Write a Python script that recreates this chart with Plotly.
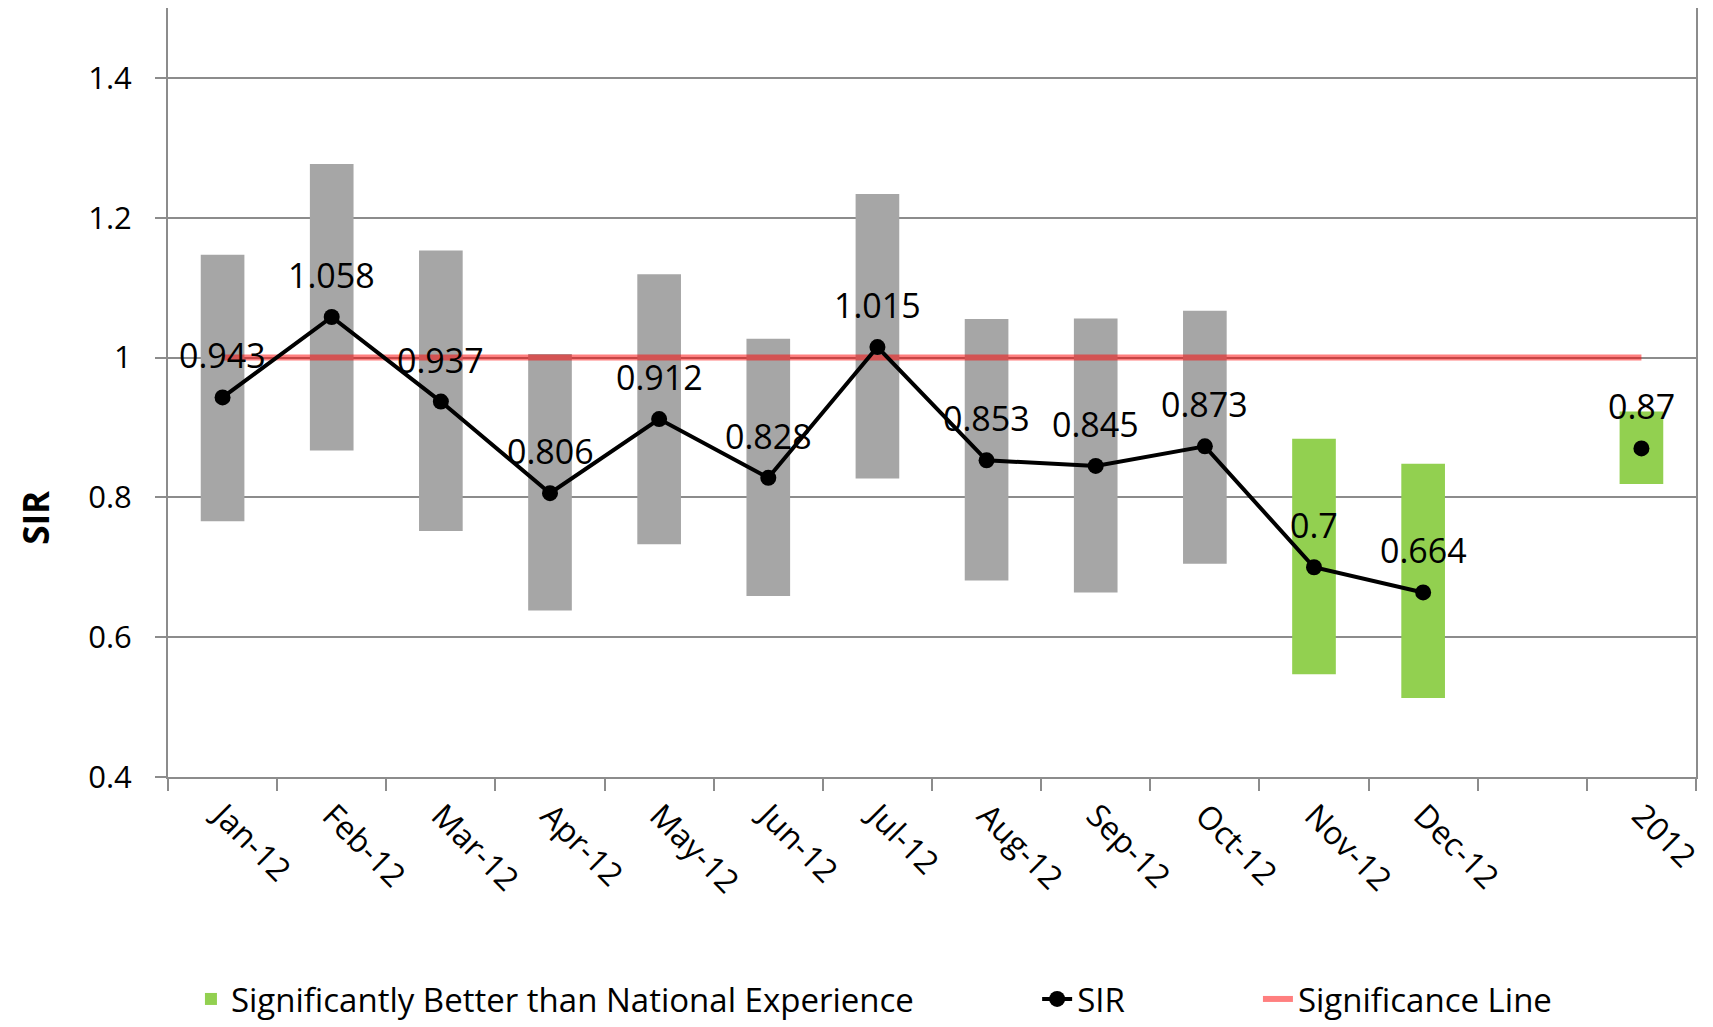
import plotly.graph_objects as go

categories = ["Jan-12", "Feb-12", "Mar-12", "Apr-12", "May-12", "Jun-12", "Jul-12",
              "Aug-12", "Sep-12", "Oct-12", "Nov-12", "Dec-12", "", "2012"]
sir = [0.943, 1.058, 0.937, 0.806, 0.912, 0.828, 1.015, 0.853, 0.845, 0.873, 0.7, 0.664, None, 0.87]
ci_low = [0.766, 0.867, 0.752, 0.638, 0.733, 0.659, 0.827, 0.681, 0.664, 0.705, 0.547, 0.513, None, 0.819]
ci_high = [1.147, 1.277, 1.153, 1.005, 1.119, 1.027, 1.234, 1.055, 1.056, 1.067, 0.884, 0.848, None, 0.923]
significant = [False, False, False, False, False, False, False, False, False, False, True, True, False, True]
significance_level = 1.0
y_ticks = [0.4, 0.6, 0.8, 1.0, 1.2, 1.4]
y_ticktext = ["0.4", "0.6", "0.8", "1", "1.2", "1.4"]

FONT = "Open Sans"
GRAY = "#A6A6A6"
GREEN = "#92D050"
AXIS = "#8C8C8C"

pos = list(range(len(categories)))

def split(flag):
    xs, base, h = [], [], []
    for p, lo, hi, s in zip(pos, ci_low, ci_high, significant):
        if lo is None or s != flag:
            continue
        xs.append(p)
        base.append(lo)
        h.append(hi - lo)
    return xs, base, h

fig = go.Figure()

gx, gb, gh = split(False)
fig.add_trace(go.Bar(x=gx, y=gh, base=gb, width=0.4, marker=dict(color=GRAY, line=dict(width=0)),
                     showlegend=False, name="Not Significant"))
sx, sb, sh = split(True)
fig.add_trace(go.Bar(x=sx, y=sh, base=sb, width=0.4, marker=dict(color=GREEN, line=dict(width=0)),
                     name="Significantly Better than National Experience", legend="legend"))

fig.add_trace(go.Scatter(x=[pos[0], pos[-1]], y=[significance_level, significance_level], mode="lines",
                         line=dict(color="rgba(255,0,0,0.5)", width=6), name="Significance Line",
                         legend="legend3"))

fig.add_trace(go.Scatter(x=pos, y=sir, mode="lines+markers", connectgaps=False,
                         line=dict(color="black", width=4), marker=dict(color="black", size=16),
                         name="SIR", legend="legend2"))

for p, v in zip(pos, sir):
    if v is None:
        continue
    fig.add_annotation(x=p, y=v, text=f"{v:g}", showarrow=False, yshift=42,
                       font=dict(family=FONT, size=34, color="black"))

fig.add_annotation(text="<b>SIR</b>", textangle=-90, xref="paper", yref="paper",
                   x=-0.0872, y=0.338, xanchor="center", yanchor="middle", showarrow=False,
                   borderpad=0, font=dict(family=FONT, size=35, color="black"))

leg_common = dict(orientation="h", xref="container", yref="container", xanchor="left",
                  yanchor="bottom", font=dict(family=FONT, size=33), bgcolor="rgba(0,0,0,0)")

fig.update_layout(
    width=1705, height=1019,
    margin=dict(l=160, r=17, t=0, b=250),
    plot_bgcolor="white", paper_bgcolor="white",
    barmode="overlay",
    font=dict(family=FONT, size=30, color="black"),
    legend=dict(x=0.1073, y=0.0, **leg_common),
    legend2=dict(x=0.6036, y=0.0, **leg_common),
    legend3=dict(x=0.7331, y=0.0, **leg_common),
)
fig.update_xaxes(
    range=[-0.5, len(categories) - 0.5], tickvals=pos, ticktext=categories,
    ticks="", tickangle=45, tickfont=dict(family=FONT, size=32), ticklabelstandoff=5,
    minor=dict(tick0=0.5, dtick=1, ticks="outside", ticklen=12, tickcolor=AXIS, tickwidth=2, showgrid=False),
    showline=True, linecolor=AXIS, linewidth=2, mirror=True, showgrid=False, zeroline=False,
    automargin=False,
)
fig.update_yaxes(
    range=[0.4, 1.5], tickvals=y_ticks, ticktext=y_ticktext,
    ticks="outside", ticklen=11, tickcolor=AXIS, tickwidth=2, ticklabelstandoff=17,
    showline=True, linecolor=AXIS, linewidth=2, mirror=True,
    showgrid=True, gridcolor=AXIS, gridwidth=2, zeroline=False,
    tickfont=dict(family=FONT, size=31), automargin=False,
)

fig.write_html("out.html")
